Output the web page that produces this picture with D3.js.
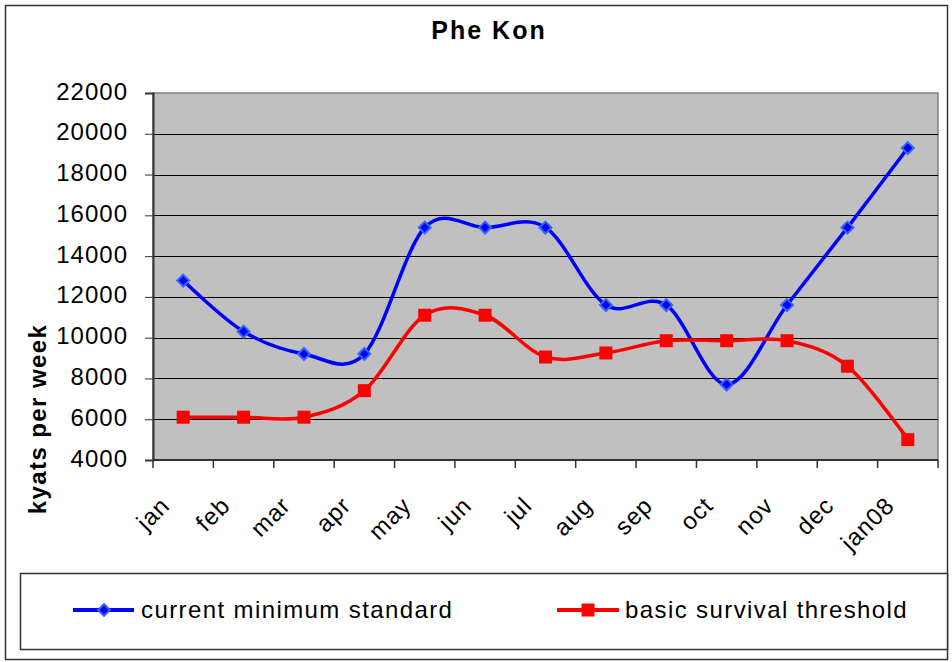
<!DOCTYPE html>
<html>
<head>
<meta charset="utf-8">
<script src="https://cdn.jsdelivr.net/npm/d3@7"></script>
<style>
  body { margin: 0; background: #fff; }
  text { font-family: "Liberation Sans", Arial, sans-serif; }
</style>
</head>
<body>
<div id="chart"></div>
<script>
// data
var months = ["jan", "feb", "mar", "apr", "may", "jun", "jul", "aug", "sep", "oct", "nov", "dec", "jan08"];
var minStandard = [12800, 10300, 9200, 9200, 15400, 15400, 15400, 11600, 11600, 7700, 11600, 15400, 19300];
var survival = [6100, 6100, 6100, 7400, 11100, 11100, 9050, 9250, 9850, 9850, 9850, 8600, 5000];
var yTicks = [4000, 6000, 8000, 10000, 12000, 14000, 16000, 18000, 20000, 22000];

var W = 952, H = 662;
var margin = { top: 93, right: 14, bottom: 202, left: 153 },
    width = W - margin.left - margin.right,
    height = H - margin.top - margin.bottom;

var svgRoot = d3.select("#chart")
    .append("svg")
    .attr("width", W)
    .attr("height", H);

// outer frame
svgRoot.append("rect")
    .attr("x", 5.5).attr("y", 5.5)
    .attr("width", 942).attr("height", 654)
    .attr("fill", "#fff")
    .attr("stroke", "#333").attr("stroke-width", 1.5);

// title
svgRoot.append("text")
    .attr("x", 489).attr("y", 39)
    .attr("text-anchor", "middle")
    .style("font-size", "25px").style("font-weight", "bold")
    .style("letter-spacing", "2px")
    .text("Phe Kon");

var svg = svgRoot.append("g")
    .attr("transform", "translate(" + margin.left + "," + margin.top + ")");

var x = d3.scaleBand()
    .domain(months)
    .range([0, width]);

var y = d3.scaleLinear()
    .domain([4000, 22000])
    .range([height, 0]);

// plot background
svg.append("rect")
    .attr("width", width).attr("height", height)
    .attr("fill", "#c0c0c0")
    .attr("stroke", "#808080").attr("stroke-width", 1.5);

// grid lines
svg.append("g")
    .selectAll("line")
    .data(yTicks.filter(function (d) { return d > 4000 && d < 22000; }))
    .enter()
    .append("line")
    .attr("x1", 0).attr("x2", width)
    .attr("y1", function (d) { return Math.round(y(d)) + 0.5; })
    .attr("y2", function (d) { return Math.round(y(d)) + 0.5; })
    .attr("stroke", "#000").attr("stroke-width", 1);

// Y axis
var yAxis = svg.append("g")
    .call(d3.axisLeft(y).tickValues(yTicks).tickSize(8).tickPadding(17).tickFormat(d3.format("d")));
yAxis.select(".domain").attr("stroke", "#333").attr("stroke-width", 2);
yAxis.selectAll(".tick line").attr("stroke", "#333");
yAxis.selectAll("text")
    .attr("dy", "0.25em")
    .style("font-size", "24px").style("letter-spacing", "1px")
    .attr("fill", "#000");

// X axis: ticks between categories
var xAxis = svg.append("g")
    .attr("transform", "translate(0," + height + ")");
xAxis.append("line")
    .attr("x1", 0).attr("x2", width)
    .attr("stroke", "#333").attr("stroke-width", 2);
var edges = months.map(function (m) { return x(m); }).concat([width]);
xAxis.selectAll(".xt")
    .data(edges)
    .enter()
    .append("line")
    .attr("class", "xt")
    .attr("x1", function (d) { return d; })
    .attr("x2", function (d) { return d; })
    .attr("y1", 0).attr("y2", 8)
    .attr("stroke", "#333").attr("stroke-width", 1.5);
xAxis.selectAll(".xl")
    .data(months)
    .enter()
    .append("text")
    .attr("class", "xl")
    .attr("transform", function (d) {
        return "translate(" + (x(d) + x.bandwidth() / 2 - 12) + ",47)rotate(-45)";
    })
    .attr("text-anchor", "end")
    .style("font-size", "24px").style("letter-spacing", "1px")
    .text(function (d) { return d; });

// y axis title
svgRoot.append("text")
    .attr("transform", "translate(46,419)rotate(-90)")
    .attr("text-anchor", "middle")
    .style("font-size", "24px").style("font-weight", "bold")
    .style("letter-spacing", "1.4px")
    .text("kyats per week");

var line = d3.line()
    .x(function (d, i) { return x(months[i]) + x.bandwidth() / 2; })
    .y(function (d) { return y(d); })
    .curve(d3.curveCardinal.tension(0));

// blue series
svg.append("path")
    .datum(minStandard)
    .attr("d", line)
    .attr("fill", "none")
    .attr("stroke", "#0000ff")
    .attr("stroke-width", 3.5);
svg.selectAll(".dia")
    .data(minStandard)
    .enter()
    .append("path")
    .attr("class", "dia")
    .attr("d", d3.symbol().type(d3.symbolDiamond2).size(90))
    .attr("transform", function (d, i) {
        return "translate(" + (x(months[i]) + x.bandwidth() / 2) + "," + y(d) + ")";
    })
    .attr("fill", "#0000ff")
    .attr("stroke", "#3366ff").attr("stroke-width", 2);

// red series
svg.append("path")
    .datum(survival)
    .attr("d", line)
    .attr("fill", "none")
    .attr("stroke", "#ff0000")
    .attr("stroke-width", 3.5);
svg.selectAll(".sq")
    .data(survival)
    .enter()
    .append("rect")
    .attr("class", "sq")
    .attr("x", function (d, i) { return x(months[i]) + x.bandwidth() / 2 - 6.5; })
    .attr("y", function (d) { return y(d) - 6.5; })
    .attr("width", 13).attr("height", 13)
    .attr("fill", "#ff0000");

// legend
var legend = svgRoot.append("g");
legend.append("rect")
    .attr("x", 20.5).attr("y", 573.5)
    .attr("width", 927).attr("height", 76)
    .attr("fill", "#fff")
    .attr("stroke", "#333").attr("stroke-width", 1.5);

legend.append("line")
    .attr("x1", 73).attr("x2", 134).attr("y1", 610).attr("y2", 610)
    .attr("stroke", "#0000ff").attr("stroke-width", 4);
legend.append("path")
    .attr("d", d3.symbol().type(d3.symbolDiamond2).size(90))
    .attr("transform", "translate(104,610)")
    .attr("fill", "#0000ff").attr("stroke", "#3366ff").attr("stroke-width", 2);
legend.append("text")
    .attr("x", 141).attr("y", 618)
    .style("font-size", "24px").style("letter-spacing", "1.4px")
    .text("current minimum standard");

legend.append("line")
    .attr("x1", 557).attr("x2", 619).attr("y1", 610).attr("y2", 610)
    .attr("stroke", "#ff0000").attr("stroke-width", 4);
legend.append("rect")
    .attr("x", 581.5).attr("y", 603.5).attr("width", 13).attr("height", 13)
    .attr("fill", "#ff0000");
legend.append("text")
    .attr("x", 625).attr("y", 618)
    .style("font-size", "24px").style("letter-spacing", "1.4px")
    .text("basic survival threshold");
</script>
</body>
</html>
